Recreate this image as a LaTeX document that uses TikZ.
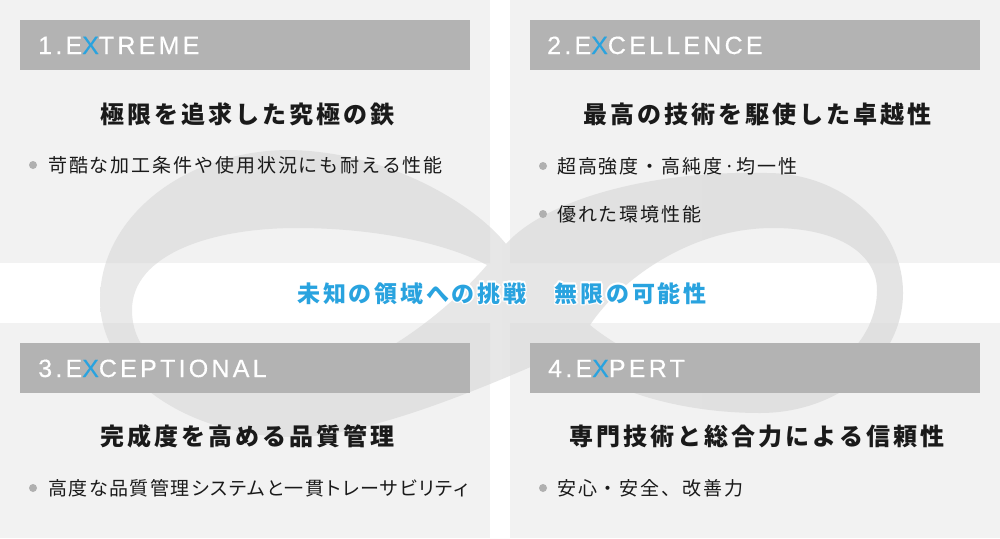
\documentclass[tikz,border=0pt]{standalone}
\usepackage{fontspec}
\setmainfont{Liberation Sans}
\newfontfamily\hdfont{Liberation Sans}[LetterSpace=13,FakeBold=0.4]
\newfontfamily\jpttl{Noto Sans CJK JP}[LetterSpace=12.5]
\newfontfamily\jpmid{Noto Sans CJK JP}[LetterSpace=12]
\newfontfamily\jpbul{Noto Sans CJK JP}[LetterSpace=10]
\newfontfamily\jpbulp{Noto Sans CJK JP}[LetterSpace=8,RawFeature=+palt]
\definecolor{panel}{HTML}{F2F2F2}
\definecolor{hdr}{HTML}{B3B3B3}
\definecolor{xblue}{HTML}{29A3DF}
\definecolor{dotc}{HTML}{B0B0B0}
\definecolor{ink}{HTML}{1A1A1A}
\tikzset{
  infshape/.style={insert path={
    (506,244) .. controls (475,205) and (390,152) .. (290,150)
    .. controls (185,150) and (100,217) .. (100,300)
    .. controls (100,376) and (187,437) .. (294,437)
    .. controls (370,437) and (490,385) .. (565,352)
    .. controls (600,390) and (680,413) .. (760,413)
    .. controls (839,413) and (903,359) .. (903,293)
    .. controls (903,227) and (842,173) .. (767,173)
    .. controls (650,170) and (545,200) .. cycle
    (132,310) .. controls (132,255) and (210,228) .. (297,228)
    .. controls (380,228) and (450,245) .. (487,265)
    .. controls (440,320) and (350,388) .. (260,388)
    .. controls (180,388) and (132,360) .. cycle
    (590,325) .. controls (620,280) and (690,228) .. (773,228)
    .. controls (840,228) and (877,255) .. (877,290)
    .. controls (877,340) and (830,388) .. (760,388)
    .. controls (690,388) and (620,350) .. cycle}},
  hdrbar/.style={fill=hdr, draw=none, minimum width=450, minimum height=50, anchor=north west, inner sep=0},
  hdtext/.style={font=\hdfont\fontsize{25}{25}\selectfont, text=white, inner sep=0, anchor=base west},
  ttl/.style={font=\jpttl\bfseries\fontsize{24}{24}\selectfont, text=ink, inner sep=0, anchor=base},
  bul/.style={font=\jpbul\fontsize{19}{19}\selectfont, text=ink, inner sep=0, anchor=base west},
  bulp/.style={bul, font=\jpbulp\fontsize{19}{19}\selectfont},
  dotn/.style={circle, fill=dotc, minimum size=8, inner sep=0},
  midtxt/.style={font=\jpmid\bfseries\fontsize{23}{23}\selectfont, text=xblue, inner sep=0, anchor=base},
  midglow/.style={midtxt, text=white},
}
\begin{document}
\begin{tikzpicture}[x=1pt,y=-1pt]
\useasboundingbox (0,0) rectangle (1000,538);
\fill[white] (0,0) rectangle (1000,538);
% infinity over white
\shade[even odd rule, left color={rgb,255:red,233;green,233;blue,233}, middle color={rgb,255:red,212;green,212;blue,212}, right color={rgb,255:red,228;green,228;blue,228}, infshape];
% panels
\fill[panel] (0,0) rectangle (490,263);
\fill[panel] (510,0) rectangle (1000,263);
\fill[panel] (0,323) rectangle (490,538);
\fill[panel] (510,323) rectangle (1000,538);
\begin{scope}
\clip (0,0) rectangle (490,263) (510,0) rectangle (1000,263) (0,323) rectangle (490,538) (510,323) rectangle (1000,538);
\shade[even odd rule, left color={rgb,255:red,226;green,226;blue,226}, middle color={rgb,255:red,214;green,214;blue,214}, right color={rgb,255:red,224;green,224;blue,224}, infshape];
\end{scope}
% header bars
\node[hdrbar] (bar1) at (20,20) {};
\node[hdrbar] (bar2) at (530,20) {};
\node[hdrbar] (bar3) at (20,343) {};
\node[hdrbar] (bar4) at (530,343) {};
\node[hdtext] (hd1) at (38,54) {1.E\textcolor{xblue}{X}TREME};
\node[hdtext] (hd2) at (547,54) {2.E\textcolor{xblue}{X}CELLENCE};
\node[hdtext] (hd3) at (38,377) {3.E\textcolor{xblue}{X}CEPTIONAL};
\node[hdtext] (hd4) at (548,377) {4.E\textcolor{xblue}{X}PERT};
% titles
\node[ttl] (ti1) at (247,123) {極限を追求した究極の鉄};
\node[ttl] (ti2) at (757,123) {最高の技術を駆使した卓越性};
\node[ttl] (ti3) at (247,445) {完成度を高める品質管理};
\node[ttl] (ti4) at (757,445) {専門技術と総合力による信頼性};
% bullets
\node[dotn] (d1) at (33,165) {};
\node[bul] (b1) at (48,172) {苛酷な加工条件や使用状況にも耐える性能};
\node[dotn] (d2) at (543,166) {};
\node[bul] (b2) at (557,173) {超高強度・高純度·均一性};
\node[dotn] (d3) at (543,214) {};
\node[bul] (b3) at (557,221) {優れた環境性能};
\node[dotn] (d4) at (33,488) {};
\node[bulp] (b4) at (48,495) {高度な品質管理システムと一貫トレーサビリティ};
\node[dotn] (d5) at (543,488) {};
\node[bul] (b5) at (557,495) {安心・安全、改善力};
% middle text with soft white glow
\foreach \dx/\dy [count=\i] in {-1.5/0,1.5/0,0/-1.5,0/1.5,-1.1/-1.1,1.1/-1.1,-1.1/1.1,1.1/1.1}
  \node[midglow] (glow\i) at (502+\dx,302+\dy) {未知の領域への挑戦　無限の可能性};
\node[midtxt] (mid) at (502,302) {未知の領域への挑戦　無限の可能性};
\end{tikzpicture}
\end{document}
